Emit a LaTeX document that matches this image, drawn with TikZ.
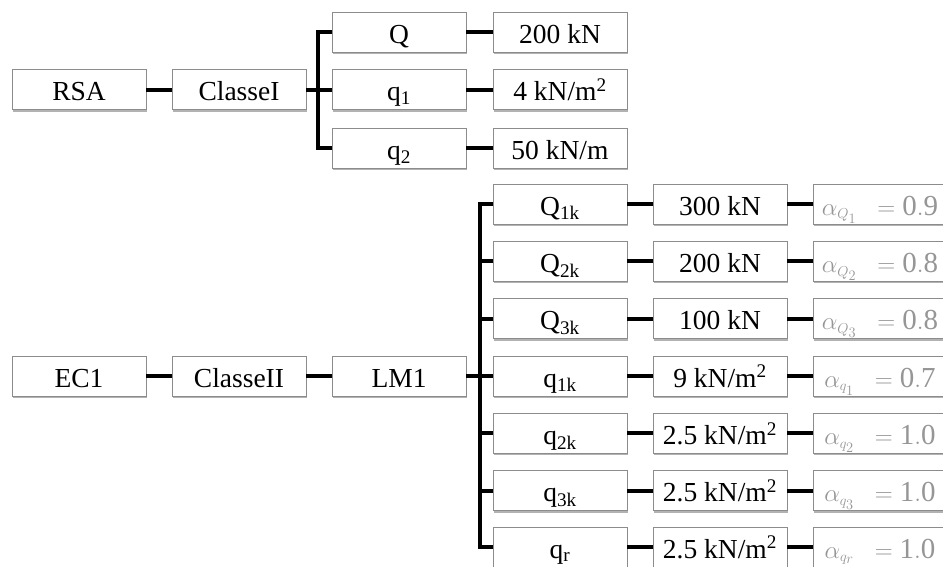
\documentclass[tikz,border=0pt]{standalone}
\usepackage{fontspec}
\setmainfont{Liberation Serif}
\usetikzlibrary{shadows}
\definecolor{boxline}{RGB}{140,140,140}
\definecolor{alphagray}{RGB}{150,150,150}
\tikzset{
  box/.style={draw=boxline, line width=0.8pt, fill=white, minimum width=134pt, minimum height=40pt,
    inner sep=0pt, text height=22pt, text depth=0pt, font=\fontsize{27.5}{30}\selectfont,
    drop shadow={shadow xshift=0.6pt, shadow yshift=-2pt, opacity=0.3, fill=black}},
  abox/.style={box, text=alphagray, font=\fontsize{29}{32}\selectfont},
  conn/.style={line width=4pt, black, line join=miter}
}
\newcommand{\alv}[3]{$\alpha_{\scriptscriptstyle #1_{#2}}\;\;=\mathrm{#3}$}
\begin{document}
\begin{tikzpicture}[x=1pt,y=-1pt]
\clip (0,0) rectangle (943,566);
\fill[white] (0,0) rectangle (943,566);
% upper tree
\node[box] (rsa) at (79,89.5) {RSA};
\node[box] (c1) at (239,89.5) {ClasseI};
\node[box] (uq) at (399,32) {Q};
\node[box] (uq1) at (399,89.5) {q\textsubscript{1}};
\node[box] (uq2) at (399,148) {q\textsubscript{2}};
\node[box] (uv1) at (560,32) {200 kN};
\node[box] (uv2) at (560,89.5) {4 kN/m\textsuperscript{2}};
\node[box] (uv3) at (560,148) {50 kN/m};
\coordinate (tu) at (318,89.5);
\draw[conn] (rsa.east) -- (c1.west);
\draw[conn] (c1.east) -- (uq1.west);
\draw[conn] (uq.west) -| (tu) |- (uq2.west);
\draw[conn] (uq.east) -- (uv1.west);
\draw[conn] (uq1.east) -- (uv2.west);
\draw[conn] (uq2.east) -- (uv3.west);
% lower tree
\node[box] (ec) at (79,376) {EC1};
\node[box] (c2) at (239,376) {ClasseII};
\node[box] (lm) at (399,376) {LM1};
\node[box] (l1) at (560,204) {Q\textsubscript{1k}};
\node[box] (l2) at (560,261.3) {Q\textsubscript{2k}};
\node[box] (l3) at (560,318.7) {Q\textsubscript{3k}};
\node[box] (l4) at (560,376) {q\textsubscript{1k}};
\node[box] (l5) at (560,433.3) {q\textsubscript{2k}};
\node[box] (l6) at (560,490.7) {q\textsubscript{3k}};
\node[box] (l7) at (560,547) {q\textsubscript{r}};
\node[box] (v1) at (720,204) {300 kN};
\node[box] (v2) at (720,261.3) {200 kN};
\node[box] (v3) at (720,318.7) {100 kN};
\node[box] (v4) at (720,376) {9 kN/m\textsuperscript{2}};
\node[box] (v5) at (720,433.3) {2.5 kN/m\textsuperscript{2}};
\node[box] (v6) at (720,490.7) {2.5 kN/m\textsuperscript{2}};
\node[box] (v7) at (720,547) {2.5 kN/m\textsuperscript{2}};
\node[abox] (a1) at (880,204) {\alv{Q}{1}{0.9}};
\node[abox] (a2) at (880,261.3) {\alv{Q}{2}{0.8}};
\node[abox] (a3) at (880,318.7) {\alv{Q}{3}{0.8}};
\node[abox] (a4) at (880,376) {\alv{q}{1}{0.7}};
\node[abox] (a5) at (880,433.3) {\alv{q}{2}{1.0}};
\node[abox] (a6) at (880,490.7) {\alv{q}{3}{1.0}};
\node[abox] (a7) at (880,547) {\alv{q}{r}{1.0}};
\coordinate (tl) at (480,376);
\draw[conn] (ec.east) -- (c2.west);
\draw[conn] (c2.east) -- (lm.west);
\draw[conn] (lm.east) -- (l4.west);
\draw[conn] (l1.west) -| (tl) |- (l7.west);
\foreach \i in {2,3,5,6} {\draw[conn] (l\i.west) -- (tl |- l\i.west);}
\foreach \i in {1,...,7} {
  \draw[conn] (l\i.east) -- (v\i.west);
  \draw[conn] (v\i.east) -- (a\i.west);
}
\end{tikzpicture}
\end{document}
